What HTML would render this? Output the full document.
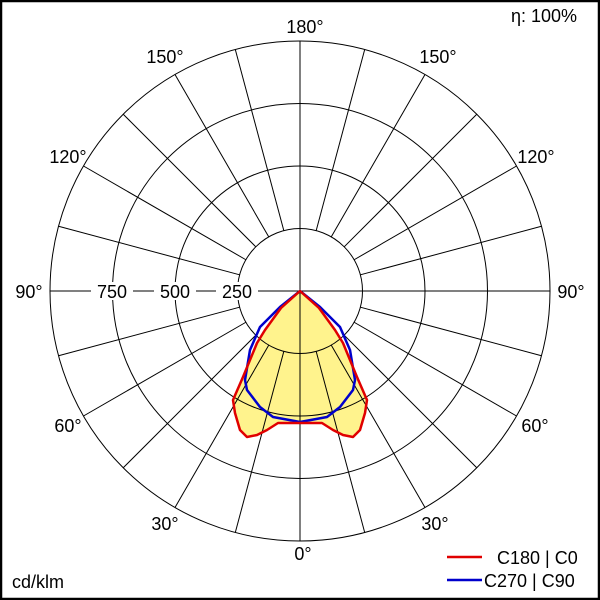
<!DOCTYPE html>
<html><head><style>
body{margin:0;background:#fff}
svg{display:block}
text{font-family:"Liberation Sans",Arial,sans-serif;font-size:18px;fill:#000}
</style></head><body>
<svg width="600" height="600" viewBox="0 0 600 600">
<rect x="1" y="1" width="598" height="598" fill="#fff" stroke="#000" stroke-width="2.5"/>
<path d="M300,291 L281,308 L265,330 L257,343 L243,377 L233,400 L235,413 L240,430 L247,437 L257,435 L267,430 L278,423 L300,423 L322,423 L333,430 L343,435 L353,437 L360,430 L365,413 L367,400 L357,377 L343,343 L335,330 L319,308 Z" fill="#fff38d" stroke="none"/>
<g transform="translate(300,291)" stroke="#000" stroke-width="1" fill="none">
<circle r="62.5"/><circle r="125"/><circle r="187.5"/><circle r="250"/>
<line x1="-250" y1="0" x2="250" y2="0"/><line x1="0" y1="-250" x2="0" y2="250"/>
<g id="sp">
<line x1="0" y1="62.5" x2="0" y2="250" transform="rotate(15)"/>
<line x1="0" y1="62.5" x2="0" y2="250" transform="rotate(30)"/>
<line x1="0" y1="62.5" x2="0" y2="250" transform="rotate(45)"/>
<line x1="0" y1="62.5" x2="0" y2="250" transform="rotate(60)"/>
<line x1="0" y1="62.5" x2="0" y2="250" transform="rotate(75)"/>
<line x1="0" y1="62.5" x2="0" y2="250" transform="rotate(105)"/>
<line x1="0" y1="62.5" x2="0" y2="250" transform="rotate(120)"/>
<line x1="0" y1="62.5" x2="0" y2="250" transform="rotate(135)"/>
<line x1="0" y1="62.5" x2="0" y2="250" transform="rotate(150)"/>
<line x1="0" y1="62.5" x2="0" y2="250" transform="rotate(165)"/>
</g>
<use href="#sp" transform="scale(-1,1)"/>
</g>
<path d="M300,291 L280,307 L260,327 L250,350 L245,380 L247,390 L260,407 L273,417 L300,422 L327,417 L340,407 L353,390 L355,380 L350,350 L340,327 L320,307 Z" fill="none" stroke="#0000cc" stroke-width="2.5" stroke-linejoin="round"/>
<path d="M300,291 L281,308 L265,330 L257,343 L243,377 L233,400 L235,413 L240,430 L247,437 L257,435 L267,430 L278,423 L300,423 L322,423 L333,430 L343,435 L353,437 L360,430 L365,413 L367,400 L357,377 L343,343 L335,330 L319,308 Z" fill="none" stroke="#e00000" stroke-width="2.5" stroke-linejoin="round"/>
<g text-anchor="middle">
<rect x="91" y="282" width="42" height="18" fill="#fff"/>
<rect x="154" y="282" width="42" height="18" fill="#fff"/>
<rect x="216" y="282" width="42" height="18" fill="#fff"/>
<text x="112" y="298">750</text>
<text x="175" y="298">500</text>
<text x="237" y="298">250</text>
<text x="305" y="33">180°</text>
<text x="165" y="63">150°</text><text x="438" y="63">150°</text>
<text x="68" y="163">120°</text><text x="536" y="163">120°</text>
<text x="29" y="298">90°</text><text x="571" y="298">90°</text>
<text x="68" y="432">60°</text><text x="535" y="432">60°</text>
<text x="165" y="530">30°</text><text x="435" y="530">30°</text>
<text x="303" y="560">0°</text>
</g>
<text x="511" y="22">η: 100%</text>
<text x="12" y="588">cd/klm</text>
<line x1="447" y1="557" x2="482" y2="557" stroke="#e00000" stroke-width="2.5"/>
<line x1="447" y1="580" x2="482" y2="580" stroke="#0000cc" stroke-width="2.5"/>
<text x="497" y="564">C180 | C0</text>
<text x="484" y="587">C270 | C90</text>
</svg>
</body></html>
